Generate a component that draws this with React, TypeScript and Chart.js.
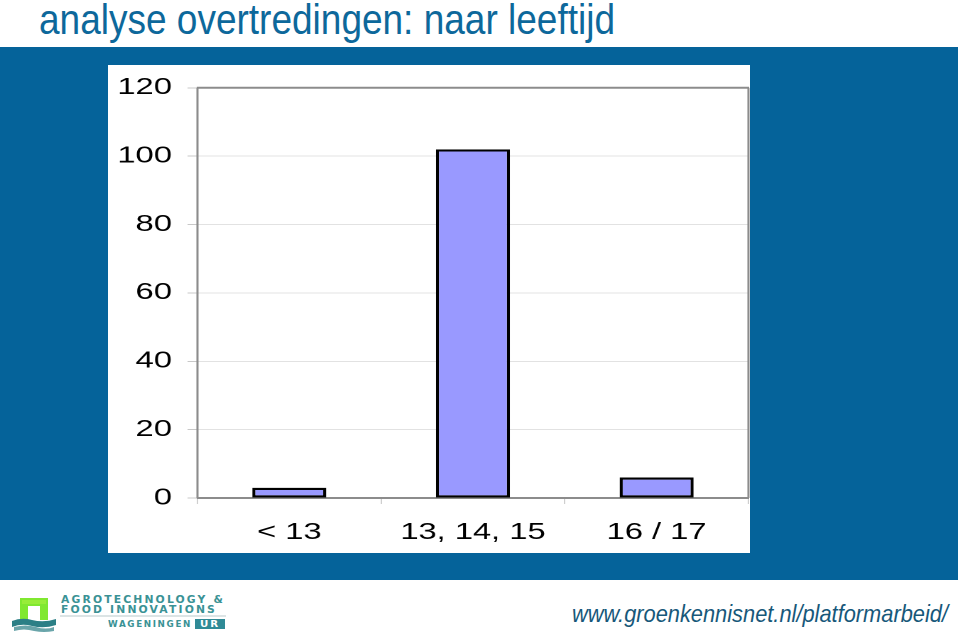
import React, { useEffect, useLayoutEffect, useRef } from "react";
import { Chart, registerables } from "chart.js";

Chart.register(...registerables);

const titleText = "analyse overtredingen: naar leeftijd";
const categories = ["< 13", "13, 14, 15", "16 / 17"];
const counts = [3, 102, 6];
const yMin = 0;
const yMax = 120;
const yStep = 20;
const footerUrl = "www.groenkennisnet.nl/platformarbeid/";

const STRETCH = 1.42;
const BLUE = "#05639a";

function FitText(props: { text: string; width: number; style: React.CSSProperties }) {
  const ref = useRef<HTMLSpanElement>(null);
  useLayoutEffect(() => {
    const el = ref.current;
    if (!el) return;
    el.style.transform = "none";
    const w = el.getBoundingClientRect().width;
    if (w > 0) el.style.transform = `scaleX(${props.width / w})`;
  }, [props.text, props.width]);
  return (
    <span
      ref={ref}
      style={{
        position: "absolute",
        whiteSpace: "nowrap",
        display: "inline-block",
        transformOrigin: "left top",
        ...props.style,
      }}
    >
      {props.text}
    </span>
  );
}

const framePlugin = {
  id: "plotFrame",
  beforeDatasetsDraw(chart: any) {
    const { ctx, chartArea } = chart;
    const { left, right, top, bottom } = chartArea;
    ctx.save();
    ctx.strokeStyle = "#8c8c8c";
    ctx.lineWidth = 2;
    ctx.beginPath();
    ctx.moveTo(left - 0.5, top);
    ctx.lineTo(right + 0.5, top);
    ctx.moveTo(left - 0.5, bottom);
    ctx.lineTo(right + 0.5, bottom);
    ctx.stroke();
    ctx.lineWidth = 1.5;
    ctx.beginPath();
    ctx.moveTo(left, top);
    ctx.lineTo(left, bottom);
    ctx.moveTo(right, top);
    ctx.lineTo(right, bottom);
    ctx.stroke();
    ctx.restore();
  },
};

function BarChart() {
  const canvasRef = useRef<HTMLCanvasElement>(null);
  useEffect(() => {
    if (!canvasRef.current) return;
    const chart = new Chart(canvasRef.current, {
      type: "bar",
      data: {
        labels: categories,
        datasets: [
          {
            data: counts,
            backgroundColor: "#9999ff",
            borderColor: "#000000",
            borderWidth: 2.2,
            borderSkipped: false,
            barPercentage: 0.403,
            categoryPercentage: 1,
          },
        ],
      },
      options: {
        animation: false,
        responsive: false,
        devicePixelRatio: 2,
        layout: { padding: { top: 18, right: 1, bottom: 0, left: 0 } },
        plugins: { legend: { display: false }, tooltip: { enabled: false }, title: { display: false } },
        scales: {
          x: {
            type: "category",
            offset: true,
            border: { display: false },
            grid: {
              offset: true,
              drawOnChartArea: false,
              drawTicks: true,
              tickLength: 6,
              color: "#cfcfcf",
            },
            ticks: {
              color: "#000000",
              padding: 15,
              maxRotation: 0,
              font: { family: "'Liberation Sans', Arial, sans-serif", size: 23 },
            },
            afterFit: (s: any) => {
              s.height = 55;
            },
          },
          y: {
            min: yMin,
            max: yMax,
            border: { display: false },
            grid: {
              color: "#e2e2e2",
              tickColor: "#c8c8c8",
              tickLength: 7,
              lineWidth: 1,
            },
            ticks: {
              stepSize: yStep,
              color: "#000000",
              padding: 11,
              font: { family: "'Liberation Sans', Arial, sans-serif", size: 23 },
            },
            afterFit: (s: any) => {
              s.width = 63;
            },
          },
        },
      },
      plugins: [framePlugin],
    });
    return () => chart.destroy();
  }, []);
  return <canvas ref={canvasRef} width={452} height={490} />;
}

function Logo() {
  return (
    <div style={{ position: "absolute", left: 0, top: 590, width: 240, height: 44 }}>
      <svg width={240} height={44} style={{ position: "absolute", left: 0, top: 0 }}>
        <path d="M20 8 L48 8 L48 30 L40 30 L40 16 L28 16 L28 30 L20 30 Z" fill="#80e830" />
        <path d="M22 10 L46 10 L46 14 L22 14 Z" fill="#a6f040" opacity={0.6} />
        <path d="M12 31 Q22 27 32 30 Q44 33 56 29 L56 35 Q44 39 32 36 Q22 33 12 37 Z" fill="#2b7f86" />
        <path d="M14 37 Q26 34 36 37 Q46 40 54 37 L54 41 Q44 43 34 41 Q24 38 14 41 Z" fill="#2b7f86" opacity={0.7} />
        <line x1={60} y1={26} x2={226} y2={26} stroke="#b9c9cc" strokeWidth={1.2} />
        <rect x={195} y={29} width={30} height={10} fill="#2f8a96" />
      </svg>
      <FitText
        text="AGROTECHNOLOGY &"
        width={164}
        style={{ left: 61, top: 5, fontFamily: "'DejaVu Sans', sans-serif", fontSize: 10, fontWeight: "bold", letterSpacing: 2, color: "#3a9295", lineHeight: "10px" }}
      />
      <FitText
        text="FOOD INNOVATIONS"
        width={156}
        style={{ left: 61, top: 15, fontFamily: "'DejaVu Sans', sans-serif", fontSize: 10, fontWeight: "bold", letterSpacing: 2, color: "#3a9295", lineHeight: "10px" }}
      />
      <FitText
        text="WAGENINGEN"
        width={84}
        style={{ left: 108, top: 30, fontFamily: "'DejaVu Sans', sans-serif", fontSize: 8, fontWeight: "bold", letterSpacing: 1.5, color: "#3a9295", lineHeight: "9px" }}
      />
      <FitText
        text="UR"
        width={20}
        style={{ left: 200, top: 30, fontFamily: "'DejaVu Sans', sans-serif", fontSize: 8, fontWeight: "bold", letterSpacing: 1.5, color: "#ffffff", lineHeight: "9px" }}
      />
    </div>
  );
}

export default function App() {
  return (
    <div
      style={{
        position: "fixed",
        left: 0,
        top: 0,
        width: 960,
        height: 634,
        background: "#ffffff",
        overflow: "hidden",
        fontFamily: "'Liberation Sans', Arial, sans-serif",
      }}
    >
      <FitText
        text={titleText}
        width={576}
        style={{ left: 39, top: -1, fontSize: 42, lineHeight: "42px", color: "#0d689b" }}
      />
      <div style={{ position: "absolute", left: 0, top: 47, width: 958, height: 533, background: BLUE }} />
      <div style={{ position: "absolute", left: 108, top: 65, width: 642, height: 488, background: "#ffffff", overflow: "hidden" }}>
        <div style={{ position: "absolute", left: 0, top: -2, width: 452, height: 490, transform: `scaleX(${STRETCH})`, transformOrigin: "left top" }}>
          <BarChart />
        </div>
      </div>
      <Logo />
      <FitText
        text={footerUrl}
        width={376}
        style={{ left: 572, top: 602, fontSize: 24, lineHeight: "24px", fontStyle: "italic", color: "#17587a" }}
      />
    </div>
  );
}
